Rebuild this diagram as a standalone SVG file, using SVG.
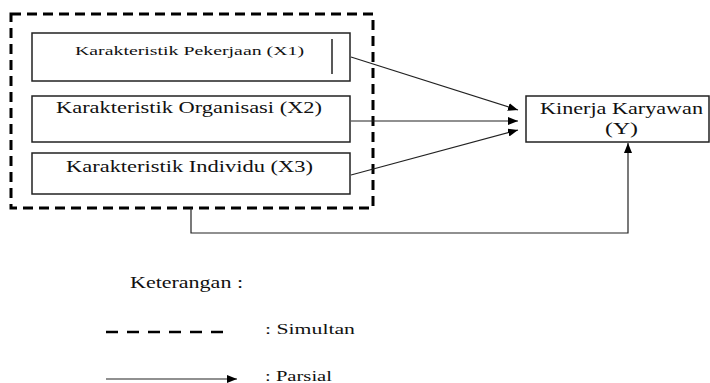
<svg xmlns="http://www.w3.org/2000/svg" width="710" height="383" viewBox="0 0 710 383" font-family="'Liberation Serif', 'DejaVu Serif', serif">
<defs>
<marker id="ah" markerWidth="10" markerHeight="8" refX="10" refY="4" orient="auto" markerUnits="userSpaceOnUse">
<path d="M0,0 L10,4 L0,8 Z" fill="#000"/>
</marker>
<style>
text{font-family:'Liberation Serif','DejaVu Serif',serif;fill:#111}
.box{fill:#fff;stroke:#222;stroke-width:1.5}
.ln{stroke:#222;stroke-width:1.2;fill:none}
.dash{fill:none;stroke:#000;stroke-width:3;stroke-dasharray:10,6}
</style>
</defs>
<rect width="710" height="383" fill="#fff"/>
<g id="simultan-group">
<rect x="11" y="14" width="362" height="194" class="dash"/>
</g>
<g id="x1">
<rect x="32" y="33" width="318" height="48" class="box"/>
<text x="75" y="55" font-size="13" textLength="229" lengthAdjust="spacingAndGlyphs">Karakteristik Pekerjaan (X1)</text>
<line x1="332" y1="39" x2="332" y2="74" stroke="#222" stroke-width="1.5"/>
</g>
<g id="x2">
<rect x="32" y="96" width="318" height="46" class="box"/>
<text x="56" y="113" font-size="16" textLength="266" lengthAdjust="spacingAndGlyphs">Karakteristik Organisasi (X2)</text>
</g>
<g id="x3">
<rect x="32" y="153" width="318" height="41" class="box"/>
<text x="66" y="172" font-size="16" textLength="247" lengthAdjust="spacingAndGlyphs">Karakteristik Individu (X3)</text>
</g>
<g id="y">
<rect x="526" y="96" width="183" height="46" class="box"/>
<text x="540" y="114" font-size="17" textLength="163" lengthAdjust="spacingAndGlyphs">Kinerja Karyawan</text>
<text x="605" y="134" font-size="17" textLength="33" lengthAdjust="spacingAndGlyphs">(Y)</text>
</g>
<g id="connectors">
<line class="ln" x1="351" y1="57" x2="518" y2="110" marker-end="url(#ah)"/>
<line class="ln" x1="351" y1="121" x2="518" y2="121" marker-end="url(#ah)"/>
<line class="ln" x1="351" y1="175" x2="518" y2="130" marker-end="url(#ah)"/>
<polyline class="ln" points="191,208 191,233 628,233 628,143" marker-end="url(#ah)"/>
</g>
<g id="legend">
<text x="130" y="288" font-size="16" textLength="113" lengthAdjust="spacingAndGlyphs">Keterangan :</text>
<line x1="106" y1="332" x2="228" y2="332" stroke="#000" stroke-width="2.5" stroke-dasharray="12,9"/>
<text x="265" y="334" font-size="15" textLength="90" lengthAdjust="spacingAndGlyphs">: Simultan</text>
<line class="ln" x1="106" y1="379" x2="237" y2="379" stroke-width="1.5" marker-end="url(#ah)"/>
<text x="265" y="381" font-size="15" textLength="67" lengthAdjust="spacingAndGlyphs">: Parsial</text>
</g>
</svg>
